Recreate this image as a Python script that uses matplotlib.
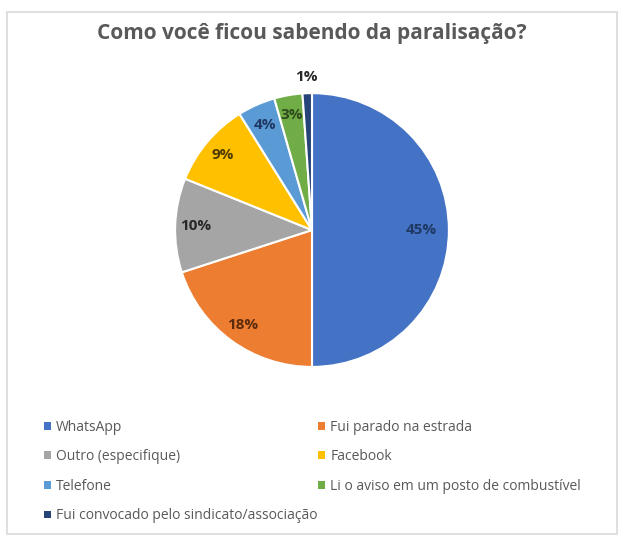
import numpy as np
import matplotlib.pyplot as plt
from matplotlib.patches import Rectangle, Patch

plt.rcParams["font.family"] = ["Open Sans", "DejaVu Sans"]

categories = ["WhatsApp", "Fui parado na estrada", "Outro (especifique)", "Facebook",
    "Telefone", "Li o aviso em um posto de combustível",
    "Fui convocado pelo sindicato/associação"]
values = [45, 18, 10, 9, 4, 3, 1]
pct_labels = ["45%", "18%", "10%", "9%", "4%", "3%", "1%"]

COLORS = ["#4472C4", "#ED7D31", "#A5A5A5", "#FFC000", "#5B9BD5", "#70AD47", "#264478"]
LABEL_COLORS = ["#1F3864", "#5B2A0C", "#262626", "#4D3A00", "#1F3864", "#2E4A1C", "#262626"]
LABEL_DIST = [0.80, 0.86, 0.85, 0.85, 0.84, 0.85, 1.12]
TEXT_GRAY = "#595959"

fig = plt.figure(figsize=(6.24, 5.4), dpi=100)

# outer border of chart area
fig.patches.append(Rectangle((0.012, 0.012), 0.976, 0.965, transform=fig.transFigure,
    fill=False, edgecolor="#d9d9d9", linewidth=1.2))

fig.text(0.5, 0.938, "Como você ficou sabendo da paralisação?", ha="center", va="center",
    fontsize=15, fontweight="bold", color=TEXT_GRAY)

ax = fig.add_axes([0.2805, 0.3205, 0.439, 0.507])
wedges, _ = ax.pie(values, colors=COLORS, startangle=90, counterclock=False,
    wedgeprops=dict(edgecolor="white", linewidth=1.5))
ax.set_xlim(-1, 1)
ax.set_ylim(-1, 1)
ax.set_aspect("equal")

for w, lab, col, d in zip(wedges, pct_labels, LABEL_COLORS, LABEL_DIST):
    ang = np.deg2rad((w.theta1 + w.theta2) / 2)
    ax.text(d * np.cos(ang), d * np.sin(ang), lab, ha="center", va="center",
        fontsize=11, fontweight="bold", color=col, clip_on=False)

# legend is row-major in the reference: even items left column, odd items right
LEG_KW = dict(loc="upper left", frameon=False, handlelength=0.5, handleheight=0.5,
    handletextpad=0.4, labelspacing=1.05, fontsize=10, labelcolor=TEXT_GRAY)
for col_idx, x0 in [(0, 0.050), (1, 0.489)]:
    idx = list(range(col_idx, len(categories), 2))
    handles = [Patch(facecolor=COLORS[i], edgecolor="none") for i in idx]
    leg = fig.legend(handles, [categories[i] for i in idx],
        bbox_to_anchor=(x0, 0.246), **LEG_KW)

fig.savefig("out.png", dpi=100)
